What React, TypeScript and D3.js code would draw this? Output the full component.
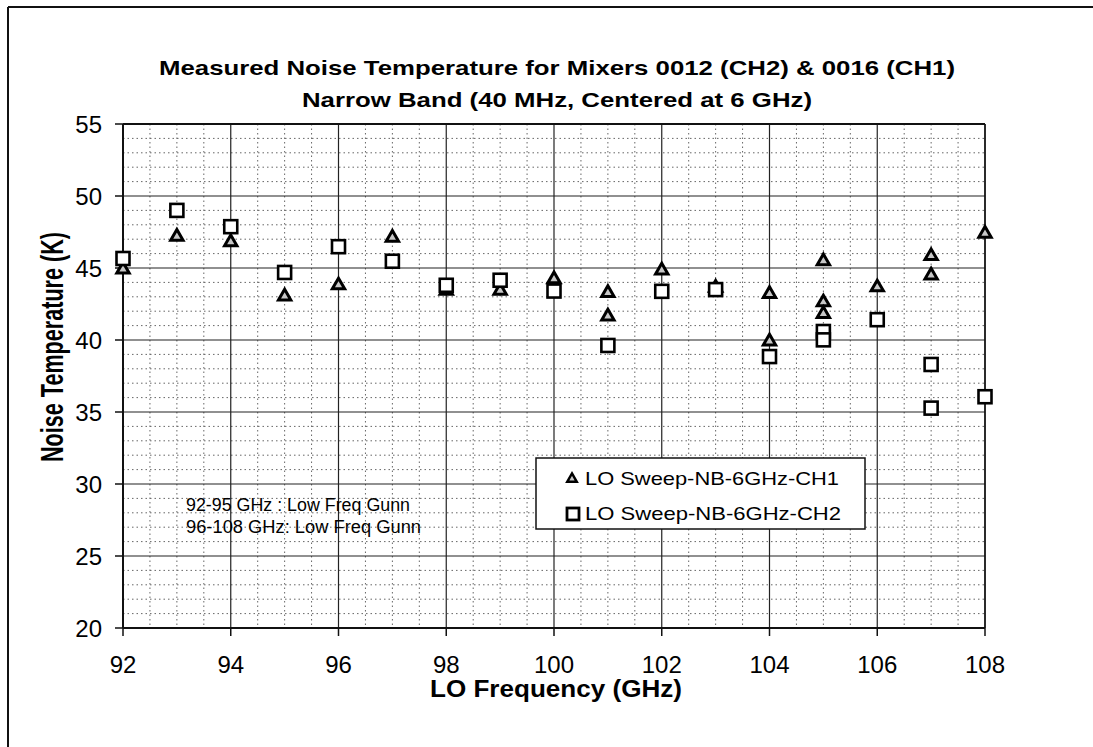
import React from "react";
import * as d3 from "d3";

const ch1Freq = [92, 93, 94, 95, 96, 97, 98, 99, 100, 101, 101, 102, 103, 104, 104, 105, 105, 105, 106, 107, 107, 108];
const ch1Temp = [44.97, 47.24, 46.87, 43.1, 43.87, 47.17, 43.5, 43.5, 44.3, 43.34, 41.71, 44.9, 43.7, 43.27, 39.97, 45.54, 42.69, 41.88, 43.73, 45.9, 44.55, 47.45];
const ch2Freq = [92, 93, 94, 95, 96, 97, 98, 99, 100, 101, 102, 103, 104, 105, 105, 106, 107, 107, 108];
const ch2Temp = [45.66, 49.0, 47.87, 44.69, 46.48, 45.47, 43.8, 44.15, 43.4, 39.62, 43.38, 43.5, 38.85, 40.59, 40.01, 41.41, 38.3, 35.27, 36.06];

const xTicks = [92, 94, 96, 98, 100, 102, 104, 106, 108];
const yTicks = [20, 25, 30, 35, 40, 45, 50, 55];

const titleLine1 = "Measured Noise Temperature for Mixers 0012 (CH2) & 0016 (CH1)";
const titleLine2 = "Narrow Band (40 MHz, Centered at 6 GHz)";
const xTitle = "LO Frequency (GHz)";
const yTitle = "Noise Temperature (K)";
const legendLabels = ["LO Sweep-NB-6GHz-CH1", "LO Sweep-NB-6GHz-CH2"];
const noteLines = ["92-95 GHz : Low Freq Gunn", "96-108 GHz:  Low Freq Gunn"];

const FONT = "'Liberation Sans', Arial, Helvetica, sans-serif";

export default function App() {
  const W = 1093, H = 747;
  const L = 123, R = 985, T = 124, B = 628;
  const x = d3.scaleLinear().domain([92, 108]).range([L, R]);
  const y = d3.scaleLinear().domain([20, 55]).range([B, T]);

  const minorX = d3.range(92, 108.001, 0.5).filter((v) => v % 2 !== 0);
  const minorY = d3.range(20, 55.001, 1).filter((v) => v % 5 !== 0);

  const tri = d3.symbol().type(d3.symbolTriangle).size(66)();

  return (
    <svg width={W} height={H} style={{ position: "absolute", left: 0, top: 0, background: "#fff" }} fontFamily={FONT}>
      <rect x={0} y={0} width={W} height={H} fill="#fff" />
      {/* outer frame */}
      <line x1={8} y1={7} x2={W} y2={7} stroke="#111" strokeWidth={2} />
      <line x1={8} y1={7} x2={8} y2={H} stroke="#111" strokeWidth={2} />

      {/* minor grid */}
      {minorX.map((v) => (
        <line key={"mx" + v} x1={x(v)} x2={x(v)} y1={T} y2={B} stroke="#666" strokeWidth={1} strokeDasharray="1.5,3" />
      ))}
      {minorY.map((v) => (
        <line key={"my" + v} x1={L} x2={R} y1={y(v)} y2={y(v)} stroke="#666" strokeWidth={1} strokeDasharray="1.5,3" />
      ))}
      {/* major grid */}
      {xTicks.map((v) => (
        <line key={"gx" + v} x1={x(v)} x2={x(v)} y1={T} y2={B} stroke="#222" strokeWidth={1.2} />
      ))}
      {yTicks.map((v) => (
        <line key={"gy" + v} x1={L} x2={R} y1={y(v)} y2={y(v)} stroke="#222" strokeWidth={1.2} />
      ))}
      {/* plot border */}
      <line x1={L} x2={R} y1={T} y2={T} stroke="#111" strokeWidth={2} />
      <line x1={R} x2={R} y1={T} y2={B} stroke="#111" strokeWidth={1.5} />
      <line x1={L} x2={L} y1={T} y2={B} stroke="#111" strokeWidth={2} />
      <line x1={L} x2={R} y1={B} y2={B} stroke="#111" strokeWidth={2} />

      {/* ticks */}
      {yTicks.map((v) => (
        <g key={"ty" + v}>
          <line x1={L - 8} x2={L} y1={y(v)} y2={y(v)} stroke="#111" strokeWidth={1.5} />
          <text x={102} y={y(v)} dy="0.36em" textAnchor="end" fontSize={24} fill="#000">{v}</text>
        </g>
      ))}
      {xTicks.map((v) => (
        <g key={"tx" + v}>
          <line x1={x(v)} x2={x(v)} y1={B} y2={B + 8} stroke="#111" strokeWidth={1.5} />
          <text x={x(v)} y={673} textAnchor="middle" fontSize={24} fill="#000">{v}</text>
        </g>
      ))}

      {/* titles */}
      <text x={159} y={75} fontSize={20.5} fontWeight="bold" textLength={796} lengthAdjust="spacingAndGlyphs">{titleLine1}</text>
      <text x={302} y={107} fontSize={20.5} fontWeight="bold" textLength={510} lengthAdjust="spacingAndGlyphs">{titleLine2}</text>
      <text x={430} y={697} fontSize={23} fontWeight="bold" textLength={252} lengthAdjust="spacingAndGlyphs">{xTitle}</text>
      <text transform="translate(63,462) rotate(-90)" x={0} y={0} fontSize={31} fontWeight="bold" textLength={230} lengthAdjust="spacingAndGlyphs">{yTitle}</text>

      {/* annotation */}
      <text x={186} y={511} fontSize={17.5} textLength={224} lengthAdjust="spacingAndGlyphs">{noteLines[0]}</text>
      <text x={186} y={533} fontSize={17.5} textLength={235} lengthAdjust="spacingAndGlyphs">{noteLines[1]}</text>

      {/* data: triangles */}
      {ch1Freq.map((f, i) => (
        <path key={"c1" + i} d={tri} transform={`translate(${x(f)},${y(ch1Temp[i]) + 1})`} fill="#c8c8c8" stroke="#000" strokeWidth={3} strokeLinejoin="miter" />
      ))}
      {/* data: squares */}
      {ch2Freq.map((f, i) => (
        <rect key={"c2" + i} x={x(f) - 6.5} y={y(ch2Temp[i]) - 6.5} width={13} height={13} fill="#fff" stroke="#000" strokeWidth={2.6} />
      ))}

      {/* legend */}
      <rect x={536} y={458} width={329} height={71} fill="#fff" stroke="#111" strokeWidth={1.5} />
      <path d={d3.symbol().type(d3.symbolTriangle).size(40)()} transform="translate(572,479)" fill="#c8c8c8" stroke="#000" strokeWidth={2.4} />
      <rect x={567} y={508} width={12} height={12} fill="#fff" stroke="#000" strokeWidth={2.8} />
      <text x={585} y={485} fontSize={19} textLength={254} lengthAdjust="spacingAndGlyphs">{legendLabels[0]}</text>
      <text x={585} y={520} fontSize={19} textLength={256} lengthAdjust="spacingAndGlyphs">{legendLabels[1]}</text>
    </svg>
  );
}
